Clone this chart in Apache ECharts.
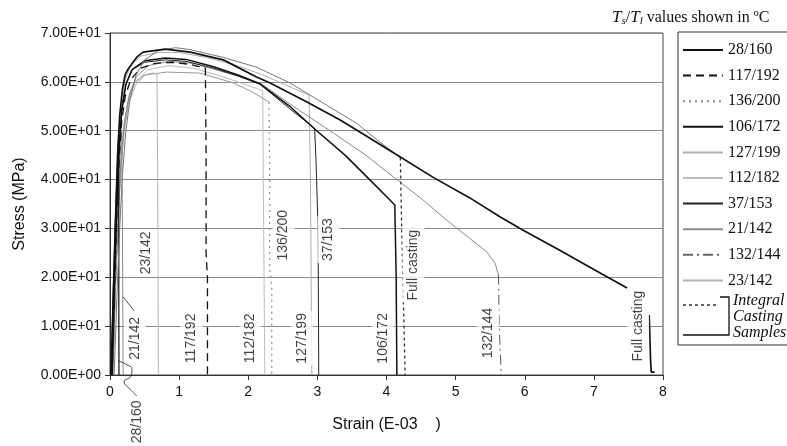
<!DOCTYPE html>
<html>
<head>
<meta charset="utf-8">
<script src="https://cdn.jsdelivr.net/npm/echarts@6/dist/echarts.min.js"></script>
<style>
  html, body { margin: 0; padding: 0; background: #fff; }
  #chart { width: 787px; height: 446px; }
</style>
</head>
<body>
<div id="chart"></div>
<script>
// tick labels
const yTickLabels = ['0.00E+00', '1.00E+01', '2.00E+01', '3.00E+01', '4.00E+01', '5.00E+01', '6.00E+01', '7.00E+01'];
const xTickLabels = ['0', '1', '2', '3', '4', '5', '6', '7', '8'];

// curves: [strain (E-03), stress (MPa)], null = break in the line
const c28_160 = [[0.01, 0], [0.04, 14], [0.07, 28], [0.1, 40], [0.125, 49], [0.127, 30], [0.128, 10], [0.13, 0]];
const c117_192 = [[0.03, 0], [0.07, 20], [0.1, 33], [0.13, 44], [0.17, 52], [0.22, 57], [0.3, 60.5], [0.45, 62.8], [0.65, 63.8], [0.9, 64], [1.15, 63.6], [1.38, 62.8], [1.39, 45], [1.39, 25], [1.41, 20], [1.41, 0]];
const c136_200 = [[0.04, 0], [0.08, 18], [0.12, 32], [0.16, 43], [0.21, 51], [0.27, 56.5], [0.35, 59.8], [0.5, 61.4], [0.82, 62], [1.3, 61.8], [1.78, 59.8], [2.05, 58], [2.3, 55.9], [2.31, 40], [2.31, 22], [2.34, 18], [2.34, 0]];
const c106_172 = [[0.03, 0], [0.07, 22], [0.1, 35], [0.13, 46], [0.17, 54], [0.23, 59.5], [0.32, 62.5], [0.5, 64.3], [0.8, 64.9], [1.1, 64.6], [1.5, 63.1], [1.85, 61.4], [2.17, 59.6], [2.6, 55], [2.99, 50], [3.4, 45], [3.72, 40.5], [4.05, 35.8], [4.12, 34.8], [4.14, 20], [4.15, 0]];
const c127_199 = [[0.03, 0], [0.07, 22], [0.1, 35], [0.13, 46], [0.17, 55], [0.22, 60.5], [0.3, 63.5], [0.45, 65.3], [0.7, 66], [1.0, 66], [1.4, 65], [1.8, 63.5], [2.2, 61.5], [2.55, 59.3], [2.88, 57.3], [2.9, 40], [2.92, 0]];
const c112_182 = [[0.04, 0], [0.08, 20], [0.11, 32], [0.15, 43], [0.2, 51], [0.27, 56.5], [0.37, 60], [0.55, 62.5], [0.85, 63.3], [1.2, 62.8], [1.6, 61.2], [1.95, 59.5], [2.21, 58.2], [2.22, 35], [2.24, 0]];
const c37_153 = [[0.03, 0], [0.07, 23], [0.1, 36], [0.13, 47], [0.17, 54.5], [0.23, 59.5], [0.32, 62.5], [0.5, 64], [0.8, 64.5], [1.1, 64.2], [1.5, 62.8], [1.85, 61.2], [2.17, 59.5], [2.6, 54.5], [2.96, 50.5], [2.98, 44], [3.01, 30], [3.02, 0]];
const c21_142 = [[0.02, 0], [0.06, 18], [0.1, 33], [0.14, 44], [0.17, 50], [0.18, 30], [0.19, 0]];
const c132_144 = [[0.04, 0], [0.08, 19], [0.12, 33], [0.16, 44], [0.21, 52], [0.28, 57.5], [0.38, 61], [0.55, 63.3], [0.85, 64.2], [1.2, 63.8], [1.6, 62.2], [1.95, 60.8], [2.2, 59.5], [2.6, 55.5], [3.18, 50], [3.7, 45], [4.15, 40], [4.53, 35.8], [4.87, 31.7], [5.2, 28], [5.45, 25.2], [5.57, 22.9], [5.62, 20.5], [5.63, 10], [5.66, 0]];
const c23_142 = [[0.04, 0], [0.08, 19], [0.12, 33], [0.16, 43], [0.21, 50.5], [0.28, 56], [0.38, 59.5], [0.5, 61.3], [0.6, 61.8], [0.68, 61.7], [0.69, 40], [0.7, 0]];
const fullDotted = [[0.06, 0], [0.1, 16], [0.14, 30], [0.18, 41], [0.23, 50], [0.29, 56.5], [0.38, 61.5], [0.5, 64.5], [0.7, 66.4], [0.95, 67], [1.16, 66.6], [1.64, 65], [2.12, 63], [2.6, 59.8], [3.08, 55.7], [3.57, 51.5], [3.9, 47.7], [4.2, 44.5], [4.22, 30], [4.27, 0]];
const fullSolid = [[0.02, 0], [0.05, 17], [0.08, 32], [0.11, 45], [0.14, 53], [0.18, 58.5], [0.22, 61.5], [0.26, 62.6], [0.39, 65.1], [0.48, 66.1], [0.8, 66.7], [1.16, 66.1], [1.64, 64.5], [2.12, 61], [2.31, 59.8], [2.85, 55.9], [3.33, 52.2], [3.72, 48.8], [4.2, 44.6], [4.67, 40.5], [5.2, 36.3], [5.64, 32.4], [5.97, 29.7], [6.5, 25.6], [7.0, 21.6], [7.48, 17.8], [7.6, null], [7.8, 12.3], [7.81, 8], [7.82, 3], [7.83, 0.6], [7.88, 0.6]];

// leader lines for the two labels near the origin
const leader21 = [[0.19, 16.0], [0.35, 13.1]];
const leader28 = [[0.116, 2.9], [0.231, 2.2], [0.318, 1.2], [0.304, -0.2], [0.203, -1.4], [0.289, -2.9], [0.39, -4.3]];

// labels written on the plot: [text, strain, stress]
const curveLabels = [
  ['23/142', 0.53, 25.0],
  ['21/142', 0.36, 7.5],
  ['28/160', 0.39, -9.6],
  ['117/192', 1.18, 7.5],
  ['112/182', 2.03, 7.5],
  ['136/200', 2.51, 28.6],
  ['127/199', 2.78, 7.5],
  ['37/153', 3.16, 27.7],
  ['106/172', 3.95, 7.5],
  ['Full casting', 4.39, 22.5],
  ['132/144', 5.47, 8.6],
  ['Full casting', 7.64, 10.0]
];

const legendNames = ['28/160', '117/192', '136/200', '106/172', '127/199', '112/182', '37/153', '21/142', '132/144', '23/142'];

const SANS = 'Liberation Sans, Arial, sans-serif';
const SERIF = 'Liberation Serif, Times New Roman, serif';

function curve(name, data, color, width, type) {
  return {
    name: name,
    type: 'line',
    data: data.map(p => (p[1] === null ? [p[0], '-'] : p)),
    symbol: 'none',
    connectNulls: false,
    clip: false,
    lineStyle: { color: color, width: width, type: type || 'solid' },
    itemStyle: { color: color },
    emphasis: { disabled: true }
  };
}

// noisy test records: the dense trace reads as a solid grey line,
// only the final fracture drop shows the dash pattern
function splitCurve(name, data, dropFrom, color, width, type, traceColor) {
  return [
    curve(name, data.slice(dropFrom), color, width, type),
    curve(name, data.slice(0, dropFrom + 1), traceColor, 1)
  ];
}

const chart = echarts.init(document.getElementById('chart'), null, { renderer: 'canvas' });

const series = [
  curve('23/142', c23_142, '#b4b4b4', 1),
  curve('112/182', c112_182, '#bdbdbd', 1),
  curve('127/199', c127_199, '#adadad', 1),
  curve('21/142', c21_142, '#8a8a8a', 1),
  ...splitCurve('136/200', c136_200, 12, '#8c8c8c', 1.2, [2, 4], '#999'),
  ...splitCurve('132/144', c132_144, 22, '#666', 1.1, [10, 4, 2, 4], '#888'),
  curve('37/153', c37_153, '#222', 1),
  curve('106/172', c106_172, '#111', 1.5),
  curve('117/192', c117_192, '#111', 1.3, [8, 5]),
  curve('28/160', c28_160, '#111', 1.2),
  ...splitCurve('Full casting (integral)', fullDotted, 17, '#333', 1.3, [3, 3], '#777'),
  curve('Full casting', fullSolid, '#111', 1.7),
  curve('leader 21/142', leader21, '#222', 0.8),
  Object.assign(curve('leader 28/160', leader28, '#222', 0.8), { smooth: 0.5 }),
  {
    name: 'labels',
    type: 'scatter',
    symbolSize: 1,
    clip: false,
    silent: true,
    z: 5,
    itemStyle: { color: 'rgba(0,0,0,0)' },
    data: curveLabels.map(l => ({ name: l[0], value: [l[1], l[2]] })),
    label: {
      show: true,
      position: 'inside',
      rotate: 90,
      formatter: '{b}',
      fontFamily: SANS,
      fontSize: 14,
      color: '#111',
      backgroundColor: '#fff',
      padding: [4, 2]
    }
  }
];

chart.setOption({
  animation: false,
  backgroundColor: '#fff',
  grid: {
    left: 110, right: 124, top: 33, bottom: 71,
    show: true, borderColor: '#444', borderWidth: 1
  },
  xAxis: {
    type: 'value',
    min: 0, max: 8, interval: 1,
    name: 'Strain (E-03    )',
    nameLocation: 'middle',
    nameGap: 42,
    nameTextStyle: { fontFamily: SANS, fontSize: 16, color: '#111' },
    axisLine: { show: true, onZero: false, lineStyle: { color: '#333' } },
    axisTick: { show: true, length: 5, lineStyle: { color: '#333' } },
    splitLine: { show: false },
    axisLabel: {
      fontFamily: SANS, fontSize: 14, color: '#111', margin: 10,
      formatter: v => xTickLabels[Math.round(v)]
    }
  },
  yAxis: {
    type: 'value',
    min: 0, max: 70, interval: 10,
    name: 'Stress (MPa)',
    nameLocation: 'middle',
    nameGap: 82,
    nameTextStyle: { fontFamily: SANS, fontSize: 16, color: '#111' },
    axisLine: { show: true, lineStyle: { color: '#333' } },
    axisTick: { show: true, length: 5, lineStyle: { color: '#333' } },
    splitLine: { show: true, lineStyle: { color: '#8a8a8a', width: 1 } },
    axisLabel: {
      fontFamily: SANS, fontSize: 14, color: '#111', margin: 9,
      formatter: v => yTickLabels[Math.round(v / 10)]
    }
  },
  legend: {
    data: legendNames,
    orient: 'vertical',
    left: 677,
    top: 37,
    itemWidth: 40,
    itemHeight: 14,
    itemGap: 9.6,
    selectedMode: false,
    itemStyle: { opacity: 0 },
    textStyle: { fontFamily: SERIF, fontSize: 16, color: '#111' }
  },
  graphic: [
    {
      type: 'text', left: 612, top: 9,
      style: {
        text: '{i|T}{sb|s}{n|/}{i|T}{sb|l}{n| values shown in ºC}',
        rich: {
          i: { fontFamily: SERIF, fontStyle: 'italic', fontSize: 17, fill: '#111' },
          sb: { fontFamily: SERIF, fontStyle: 'italic', fontSize: 11, fill: '#111', padding: [8, 0, 0, 0] },
          n: { fontFamily: SERIF, fontSize: 16, fill: '#111' }
        }
      }
    },
    {
      type: 'rect', shape: { x: 678, y: 32, width: 130, height: 313 },
      style: { fill: 'none', stroke: '#333', lineWidth: 1 }
    },
    {
      type: 'line', shape: { x1: 683, y1: 305, x2: 719, y2: 305 },
      style: { stroke: '#111', lineWidth: 1.3, lineDash: [3, 3] }
    },
    {
      type: 'polyline', shape: { points: [[720, 297], [729, 297], [729, 335], [683, 335]] },
      style: { stroke: '#111', lineWidth: 1.3, fill: 'none' }
    },
    {
      type: 'text', left: 733, top: 293,
      style: { text: 'Integral', fontFamily: SERIF, fontStyle: 'italic', fontSize: 16, fill: '#111' }
    },
    {
      type: 'text', left: 733, top: 309,
      style: { text: 'Casting', fontFamily: SERIF, fontStyle: 'italic', fontSize: 16, fill: '#111' }
    },
    {
      type: 'text', left: 733, top: 325,
      style: { text: 'Samples', fontFamily: SERIF, fontStyle: 'italic', fontSize: 16, fill: '#111' }
    }
  ],
  series: series
});
</script>
</body>
</html>
